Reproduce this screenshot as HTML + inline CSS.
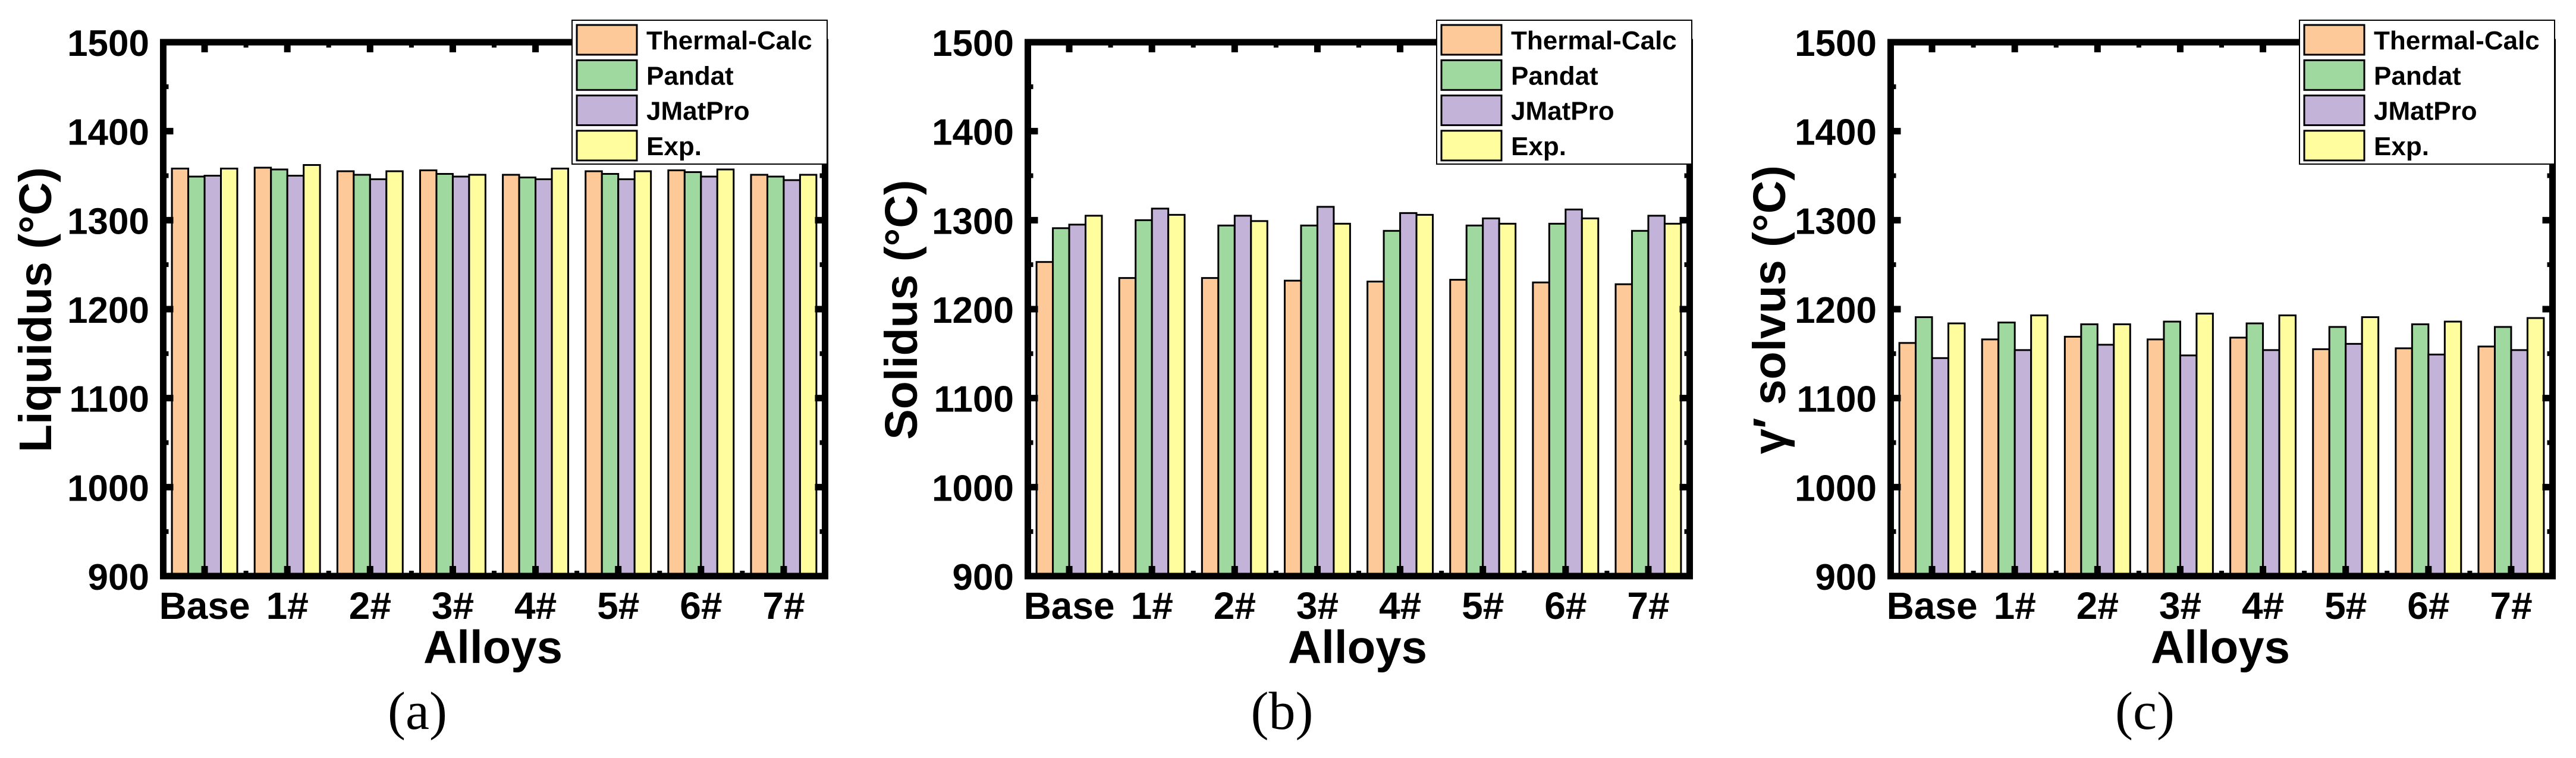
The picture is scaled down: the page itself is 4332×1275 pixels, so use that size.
<!DOCTYPE html>
<html><head><meta charset="utf-8"><style>
html,body{margin:0;padding:0;background:#fff;}
svg{display:block;}
text{font-family:"Liberation Sans",Arial,sans-serif;font-weight:bold;fill:#000;}
</style></head><body>
<svg id="fig" width="4332" height="1275" viewBox="0 0 4332 1275" xmlns="http://www.w3.org/2000/svg"></svg>
<script>
const categories = ["Base","1#","2#","3#","4#","5#","6#","7#"];
const seriesNames = ["Thermal-Calc","Pandat","JMatPro","Exp."];
const liqTC = [1358,1359,1355,1356,1351,1355,1356,1351];
const liqP  = [1349,1357,1351,1352,1348,1352,1354,1349];
const liqJ  = [1350,1350,1346,1349,1346,1346,1349,1345];
const liqE  = [1358,1362,1355,1351,1358,1355,1357,1351];
const solTC = [1253,1235,1235,1232,1231,1233,1230,1228];
const solP  = [1291,1300,1294,1294,1288,1294,1296,1288];
const solJ  = [1295,1313,1305,1315,1308,1302,1312,1305];
const solE  = [1305,1306,1299,1296,1306,1296,1302,1296];
const gamTC = [1162,1166,1169,1166,1168,1155,1156,1158];
const gamP  = [1191,1185,1183,1186,1184,1180,1183,1180];
const gamJ  = [1145,1154,1160,1148,1154,1161,1149,1154];
const gamE  = [1184,1193,1183,1195,1193,1191,1186,1190];
const yTicks = [900,1000,1100,1200,1300,1400,1500];
const yMin = 900, yMax = 1500;

const NS = "http://www.w3.org/2000/svg";
const colors = ["#FDC998","#A0D99F","#C4B3D8","#FFFD9E"];
const svg = document.getElementById("fig");
function mk(tag, attrs, parent, txt){
  const e = document.createElementNS(NS, tag);
  for (const k in attrs) e.setAttribute(k, attrs[k]);
  if (txt !== undefined) e.textContent = txt;
  parent.appendChild(e);
  return e;
}
const panels = [
  {off:0, title:"Liquidus (°C)", tx:60, label:"(a)", data:[liqTC,liqP,liqJ,liqE], key:"a"},
  {off:1454, title:"Solidus (°C)", tx:62, label:"(b)", data:[solTC,solP,solJ,solE], key:"b"},
  {off:2905, title:"γ′ solvus (°C)", tx:71, label:"(c)", data:[gamTC,gamP,gamJ,gamE], key:"c"}
];
const X0 = 274.5, X1 = 1387.5, Y0 = 71, Y1 = 969;
function yS(v){ return Y1 - (v - yMin) / (yMax - yMin) * (Y1 - Y0); }
const slot = (X1 - X0) / categories.length;
function xC(i){ return X0 + (i + 0.5) * slot; }
const groupW = slot * 0.79, barW = groupW / 4;

panels.forEach(p => {
  const g = mk("g", {transform:`translate(${p.off},0)`}, svg);
  
  
  p.data.forEach((series, s) => {
    series.forEach((v, i) => {
      const x = xC(i) - groupW/2 + s*barW;
      const r = mk("rect", {x:x, y:yS(v), width:barW, height:yS(yMin)-yS(v), fill:colors[s], stroke:"#000", "stroke-width":3}, g);
      
      
    });
  });
  yTicks.forEach((t, k) => {
    const y = yS(t);
    mk("line", {x1:X0, x2:X0+17, y1:y, y2:y, stroke:"#000", "stroke-width":11}, g);
    mk("line", {x1:X1, x2:X1-17, y1:y, y2:y, stroke:"#000", "stroke-width":11}, g);
    if (k < yTicks.length-1){
      const ym = yS(t + 50);
      mk("line", {x1:X0, x2:X0+9, y1:ym, y2:ym, stroke:"#000", "stroke-width":8}, g);
      mk("line", {x1:X1, x2:X1-9, y1:ym, y2:ym, stroke:"#000", "stroke-width":8}, g);
    }
    const tl = mk("text", {x:251, y:y+23, "text-anchor":"end", "font-size":62}, g, String(t));
    
    
  });
  categories.forEach((c, i) => {
    const x = xC(i);
    mk("line", {x1:x, x2:x, y1:Y1, y2:Y1-17, stroke:"#000", "stroke-width":11}, g);
    mk("line", {x1:x, x2:x, y1:Y0, y2:Y0+17, stroke:"#000", "stroke-width":11}, g);
    if (i > 0){
      const xb = X0 + i*slot;
      mk("line", {x1:xb, x2:xb, y1:Y1, y2:Y1-9, stroke:"#000", "stroke-width":8}, g);
      mk("line", {x1:xb, x2:xb, y1:Y0, y2:Y0+9, stroke:"#000", "stroke-width":8}, g);
    }
    const xl = mk("text", {x:x, y:1041, "text-anchor":"middle", "font-size":64}, g, c);
    
    
  });
  const fr = mk("rect", {x:X0, y:Y0, width:X1-X0, height:Y1-Y0, fill:"none", stroke:"#000", "stroke-width":11}, g);
  
  
  const lg = mk("g", {}, g);
  
  
  mk("rect", {x:962, y:34, width:429, height:242, fill:"#fff", stroke:"#000", "stroke-width":2}, lg);
  seriesNames.forEach((n, s) => {
    const ry = 42 + s*59.3;
    const e = mk("g", {}, lg);
    
    
    mk("rect", {x:970, y:ry, width:101, height:50, fill:colors[s], stroke:"#000", "stroke-width":3}, e);
    mk("text", {x:1087, y:ry+41, "font-size":44}, e, n);
  });
  const yt = mk("text", {x:p.tx, y:521, "text-anchor":"middle", "font-size":77, "dominant-baseline":"central", transform:`rotate(-90 ${p.tx} 521)`}, g, p.title);
  
  
  const xt = mk("text", {x:829, y:1115, "text-anchor":"middle", "font-size":78}, g, "Alloys");
  
  
  const pl = mk("text", {x:702, y:1226, "text-anchor":"middle", "font-size":90, style:"font-family:'Liberation Serif',serif;font-weight:normal"}, g, p.label);
  
  
});
</script>
</body></html>
